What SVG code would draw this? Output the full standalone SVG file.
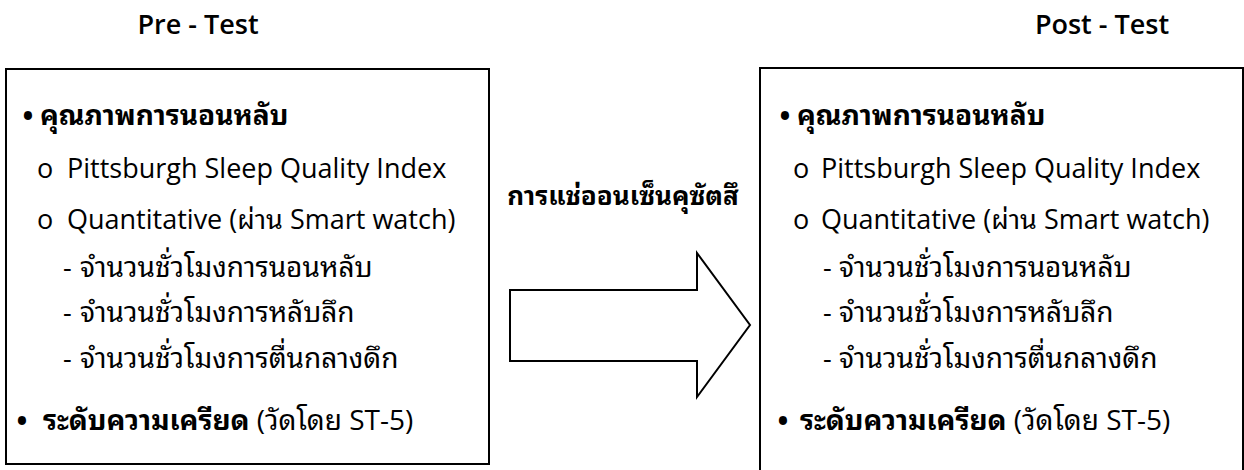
<svg xmlns="http://www.w3.org/2000/svg" width="1244" height="470" viewBox="0 0 1244 470">
<style>
text{font-family:"Open Sans","Noto Sans Thai Looped","Noto Sans Thai","Noto Sans","DejaVu Sans",sans-serif;fill:#000}
.t{font-size:27px;font-weight:600;text-anchor:middle}
.b{font-size:27px}
.th{font-size:28px}
.bb{font-weight:bold}
.bl{font-size:29px;font-weight:bold;text-anchor:middle}
.box{fill:#fff;stroke:#000;stroke-width:2}
</style>
<rect width="1244" height="470" fill="#fff"/>
<g id="pre-title"><text class="t" x="198" y="34">Pre - Test</text></g>
<g id="post-title"><text class="t" x="1102" y="34">Post - Test</text></g>
<g id="pre-box">
<rect class="box" x="6" y="69" width="483" height="395"/>
<text class="bl" x="28" y="126">•</text><text class="th bb" x="40" y="125">คุณภาพการนอนหลับ</text>
<text class="b" x="37" y="178">o</text><text class="b" x="67" y="178">Pittsburgh Sleep Quality Index</text>
<text class="b" x="37" y="229">o</text><text class="b" x="67" y="229">Quantitative (ผ่าน Smart watch)</text>
<text class="b" x="63" y="277">-</text><text class="th" x="80" y="277">จำนวนชั่วโมงการนอนหลับ</text>
<text class="b" x="63" y="322">-</text><text class="th" x="80" y="322">จำนวนชั่วโมงการหลับลึก</text>
<text class="b" x="63" y="368">-</text><text class="th" x="80" y="368">จำนวนชั่วโมงการตื่นกลางดึก</text>
<text class="bl" x="22" y="431">•</text><text class="th" x="43" y="430"><tspan class="bb">ระดับความเครียด</tspan> (วัดโดย ST-5)</text>
</g>
<g id="post-box">
<rect class="box" x="760" y="68" width="483" height="410"/>
<text class="bl" x="785" y="126">•</text><text class="th bb" x="797" y="125">คุณภาพการนอนหลับ</text>
<text class="b" x="793" y="178">o</text><text class="b" x="821" y="178">Pittsburgh Sleep Quality Index</text>
<text class="b" x="793" y="229">o</text><text class="b" x="821" y="229">Quantitative (ผ่าน Smart watch)</text>
<text class="b" x="823" y="277">-</text><text class="th" x="839" y="277">จำนวนชั่วโมงการนอนหลับ</text>
<text class="b" x="823" y="322">-</text><text class="th" x="839" y="322">จำนวนชั่วโมงการหลับลึก</text>
<text class="b" x="823" y="368">-</text><text class="th" x="839" y="368">จำนวนชั่วโมงการตื่นกลางดึก</text>
<text class="bl" x="783" y="431">•</text><text class="th" x="800" y="430"><tspan class="bb">ระดับความเครียด</tspan> (วัดโดย ST-5)</text>
</g>
<g id="connectors">
<polygon points="510,290 697,290 697,253 750,325 697,397 697,361 510,361" fill="#fff" stroke="#000" stroke-width="2"/>
<text class="t" x="623" y="205" style="font-size:26px;font-weight:bold">การแช่ออนเซ็นคุซัตสึ</text>
</g>
</svg>
